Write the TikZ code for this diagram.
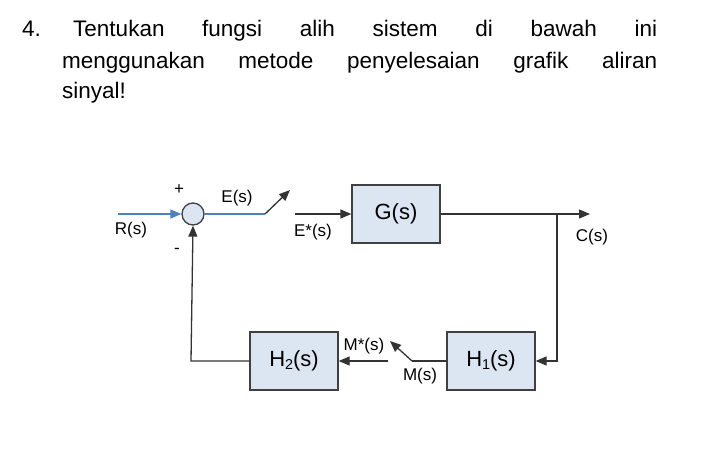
\documentclass[tikz,border=0pt]{standalone}
\usepackage{fontspec}
\setmainfont{Liberation Sans}
\usetikzlibrary{arrows.meta}
\definecolor{boxfill}{HTML}{DCE6F2}
\definecolor{sigblue}{HTML}{4F81BD}
\newcommand{\sbs}[1]{\raisebox{-0.25ex}{\scalebox{0.65}{#1}}}
\begin{document}
\begin{tikzpicture}[x=1pt,y=-1pt,
  blk/.style={draw=black!75,line width=1.3pt,fill=boxfill,minimum width=88pt,minimum height=58pt,font=\fontsize{22}{24}\selectfont},
  wire/.style={draw=black!80,line width=1.3pt},
  arr/.style={wire,-{Triangle[length=11pt,width=9pt]}},
  lbl/.style={font=\fontsize{17}{19}\selectfont,inner sep=0pt},
  ttl/.style={font=\fontsize{22.5}{26}\selectfont,inner sep=0pt,anchor=base west}]
\useasboundingbox (0,0) rectangle (715,456);
\node[ttl] (t0) at (22,36) {4.};
\node[ttl] (t1) at (73,36) {\makebox[584pt][s]{Tentukan fungsi alih sistem di bawah ini}};
\node[ttl] (t2) at (62,68) {\makebox[595pt][s]{menggunakan metode penyelesaian grafik aliran}};
\node[ttl] (t3) at (62,98) {sinyal!};
\node[draw=black!75,line width=1.3pt,fill=boxfill,circle,minimum size=22pt,inner sep=0pt] (sum) at (193,214) {};
\node[blk] (G) at (396,214) {G(s)};
\node[blk] (H1) at (491,361) {H\sbs{1}(s)};
\node[blk] (H2) at (294,361) {H\sbs{2}(s)};
\coordinate (rin) at (118,214);
\coordinate (sw1) at (265,214);
\coordinate (sw1e) at (290,190);
\coordinate (es) at (295,214);
\coordinate (cout) at (590,214);
\coordinate (br) at (557,214);
\coordinate (brd) at (557,361);
\coordinate (m1) at (412,361);
\coordinate (m1e) at (390,341);
\coordinate (ms) at (388,361);
\coordinate (fb) at (191,361);
\draw[draw=sigblue,line width=1.3pt,-{Triangle[length=11pt,width=9pt]}] (rin) -- (sum.west);
\draw[draw=sigblue,line width=1.3pt] (sum.east) -- (sw1);
\draw[arr] (sw1) -- (sw1e);
\draw[arr] (es) -- (G.west);
\draw[arr] (G.east) -- (cout);
\draw[arr] (br) -- (brd) -- (H1.east);
\draw[wire] (H1.west) -- (m1);
\draw[arr] (m1) -- (m1e);
\draw[arr] (ms) -- (H2.east);
\draw[arr] (H2.west) -- (fb) -- (sum.south);
\node[lbl] (lp) at (179,190) {+};
\node[lbl] (lm) at (177,251) {-};
\node[lbl] (lE) at (237,198) {E(s)};
\node[lbl] (lR) at (131,230) {R(s)};
\node[lbl] (lEs) at (313,232) {E*(s)};
\node[lbl] (lC) at (592,237) {C(s)};
\node[lbl] (lMs) at (364,346) {M*(s)};
\node[lbl] (lM) at (420,376) {M(s)};
\end{tikzpicture}
\end{document}
